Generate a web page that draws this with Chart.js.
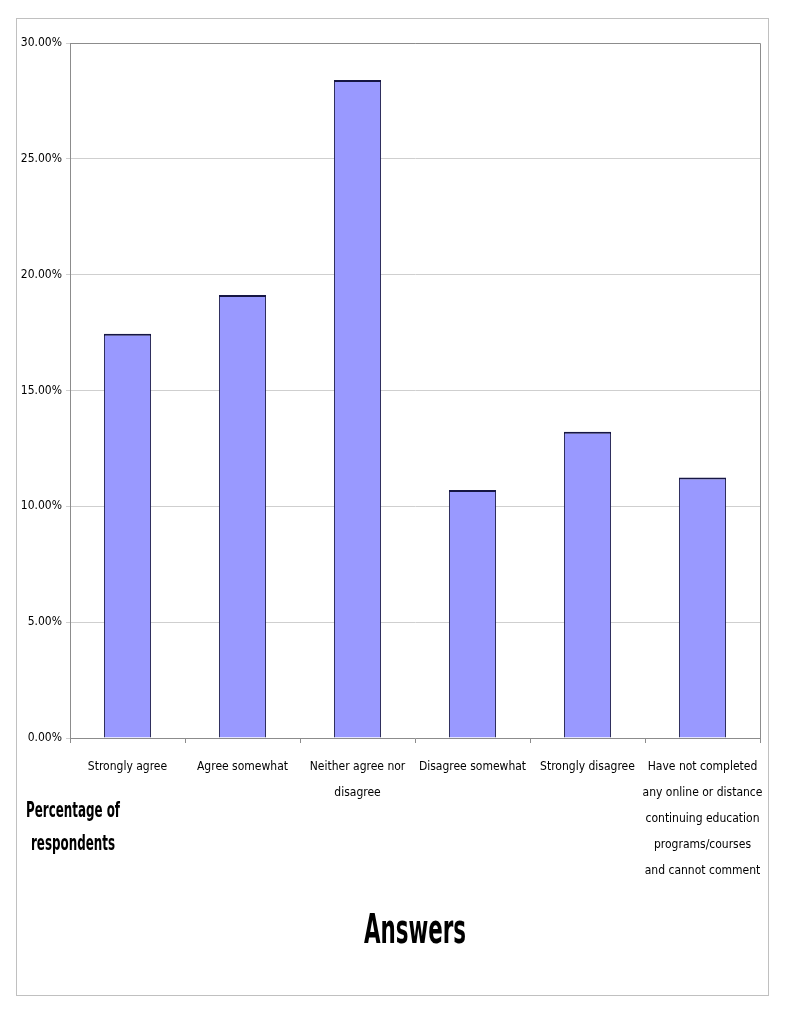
<!DOCTYPE html>
<html>
<head>
<meta charset="utf-8">
<script src="https://cdn.jsdelivr.net/npm/chart.js@4.4.1/dist/chart.umd.min.js"></script>
<style>
  html, body { margin: 0; padding: 0; background: #fff; }
  #wrap { width: 785px; height: 1016px; position: relative; }
</style>
</head>
<body>
<div id="wrap"><canvas id="myChart" width="785" height="1016"></canvas></div>
<script>
// answers and share of respondents (%)
var categories = [
  ['Strongly agree'],
  ['Agree somewhat'],
  ['Neither agree nor', 'disagree'],
  ['Disagree somewhat'],
  ['Strongly disagree'],
  ['Have not completed', 'any online or distance', 'continuing education', 'programs/courses', 'and cannot comment']
];
var percentages = [17.45, 19.12, 28.4, 10.7, 13.22, 11.25];
var yTicks = [0, 5, 10, 15, 20, 25, 30];

var narrow = "'Liberation Sans Narrow', 'Arial Narrow', 'DejaVu Sans Condensed', sans-serif";

// tall narrow text, squeezed sideways like the original
function squeezed(ctx, text, x, y, size, sx){
  ctx.save();
  ctx.font = 'bold ' + size + 'px ' + narrow;
  ctx.textAlign = 'center';
  ctx.textBaseline = 'middle';
  ctx.translate(x, y);
  ctx.scale(sx, 1);
  ctx.fillText(text, 0, 0);
  ctx.restore();
}

// frame round the whole picture, plot border and the titles
var decor = {
  id: 'decor',
  beforeDraw: function(chart){
    var ctx = chart.ctx;
    ctx.save();
    ctx.fillStyle = '#fff';
    ctx.fillRect(0, 0, chart.width, chart.height);
    ctx.strokeStyle = '#c0c0c0';
    ctx.lineWidth = 1;
    ctx.strokeRect(16.5, 18.5, 752, 977);
    ctx.restore();
  },
  afterDraw: function(chart){
    var ctx = chart.ctx, a = chart.chartArea;
    ctx.save();
    ctx.strokeStyle = '#8c8c8c';
    ctx.lineWidth = 1;
    ctx.beginPath();
    ctx.moveTo(a.left, a.top + 0.5);
    ctx.lineTo(a.right + 0.5, a.top + 0.5);
    ctx.lineTo(a.right + 0.5, a.bottom);
    ctx.stroke();
    ctx.fillStyle = '#000';
    squeezed(ctx, 'Percentage of', 73, 812, 21, 0.63);
    squeezed(ctx, 'respondents', 73, 845, 21, 0.63);
    squeezed(ctx, 'Answers', (a.left + a.right) / 2, 932, 41, 0.58);
    ctx.restore();
  }
};

var ctx = document.getElementById('myChart');
var myChart = new Chart(ctx, {
  type: 'bar',
  data: {
    labels: categories,
    datasets: [{
      label: 'Percentage of respondents',
      data: percentages,
      backgroundColor: '#9999ff',
      borderColor: '#161644',
      borderWidth: { top: 2, left: 1, right: 1, bottom: 0 },
      categoryPercentage: 1,
      barPercentage: 0.41
    }]
  },
  options: {
    responsive: false,
    animation: false,
    layout: { padding: { top: 43, right: 25, left: 0, bottom: 66 } },
    plugins: {
      legend: { display: false },
      tooltip: { enabled: false }
    },
    scales: {
      x: {
        grid: { display: true, drawOnChartArea: false, drawTicks: true, tickLength: 5, color: '#8c8c8c', offset: true },
        border: { color: '#8c8c8c' },
        ticks: {
          autoSkip: false, maxRotation: 0, minRotation: 0, padding: 11, color: '#000',
          font: { family: narrow, size: 12, lineHeight: 2.17 }
        },
        afterFit: function(scale){ scale.height = 212; }
      },
      y: {
        min: 0, max: 30,
        afterBuildTicks: function(scale){
          scale.ticks = yTicks.map(function(v){ return { value: v }; });
        },
        grid: { color: '#cfcfcf', tickLength: 4, drawTicks: true },
        border: { color: '#8c8c8c' },
        ticks: {
          padding: 4, color: '#000',
          font: { family: narrow, size: 12 },
          callback: function(v){ return v.toFixed(2) + '%'; }
        },
        afterFit: function(scale){ scale.width = 70; }
      }
    }
  },
  plugins: [decor]
});
</script>
</body>
</html>
